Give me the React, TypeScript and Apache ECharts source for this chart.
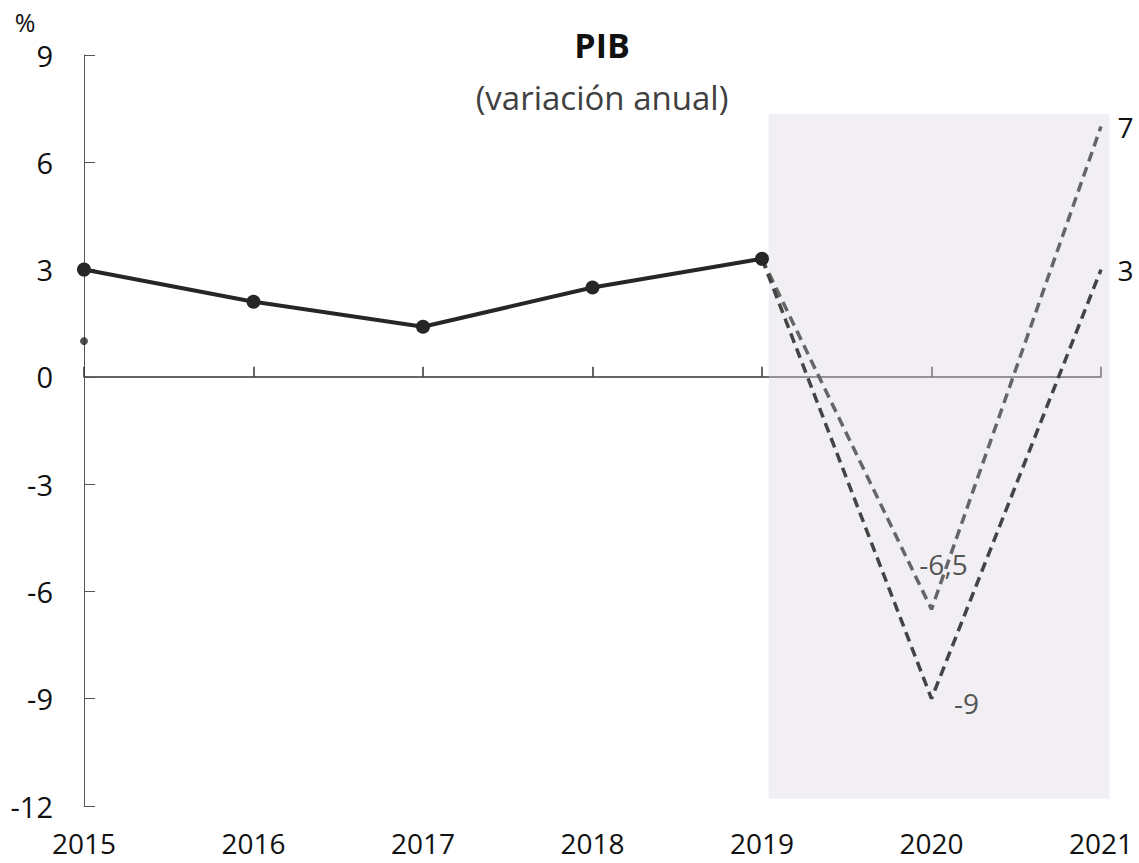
import React, { useEffect, useRef } from "react";
import * as echarts from "echarts";

// Annual GDP growth (%)
const years = [2015, 2016, 2017, 2018, 2019];
const observed = [3.0, 2.1, 1.4, 2.5, 3.3];
const forecastYears = [2019, 2020, 2021];
const scenarioHigh = [3.3, -6.5, 7];
const scenarioLow = [3.3, -9, 3];
const extraPoint = [[2015, 1.0]];
// Forecast period band: [x0, x1, yTop, yBottom]
const forecastBand = [[2019.04, 2021.05, 7.35, -11.8]];

const yTicks = { min: -12, max: 9, interval: 3 };
const FONT = "Open Sans";

const fmt = (v: number) => String(v).replace(".", ",");

function withLabels(xs: number[], ys: number[], labelFor: (i: number) => any) {
  return xs.map((x, i) => {
    const lab = labelFor(i);
    return lab ? { value: [x, ys[i]], label: lab } : { value: [x, ys[i]] };
  });
}

export default function App() {
  const ref = useRef<HTMLDivElement>(null);

  useEffect(() => {
    if (!ref.current) return;
    const chart = echarts.init(ref.current, undefined, { renderer: "svg" });

    const labelBase = {
      show: true,
      fontFamily: FONT,
      fontSize: 28,
      formatter: (p: any) => fmt(p.value[1]),
    };

    chart.setOption({
      animation: false,
      backgroundColor: "#ffffff",
      textStyle: { fontFamily: FONT },
      grid: { left: 84, right: 38, top: 55, bottom: 57, containLabel: false },
      graphic: [
        {
          type: "text",
          x: 602,
          y: 45,
          style: {
            text: "PIB",
            font: `bold 34px "${FONT}"`,
            fill: "#111",
            align: "center",
            verticalAlign: "middle",
          },
        },
        {
          type: "text",
          x: 602,
          y: 97,
          style: {
            text: "(variación anual)",
            font: `33px "${FONT}"`,
            fill: "#404040",
            align: "center",
            verticalAlign: "middle",
          },
        },
        {
          type: "text",
          x: 25,
          y: 22,
          style: {
            text: "%",
            font: `25px "${FONT}"`,
            fill: "#111",
            align: "center",
            verticalAlign: "middle",
          },
        },
      ],
      xAxis: [
        {
          type: "value",
          min: 2015,
          max: 2021,
          interval: 1,
          axisLine: { show: true, onZero: true, lineStyle: { color: "#333", width: 1.5 } },
          axisTick: { show: true, inside: true, length: 10, lineStyle: { color: "#333", width: 1.5 } },
          axisLabel: { show: false },
          splitLine: { show: false },
        },
        {
          type: "value",
          min: 2015,
          max: 2021,
          interval: 1,
          position: "bottom",
          axisLine: { show: false, onZero: false },
          axisTick: { show: false },
          axisLabel: {
            show: true,
            margin: 22,
            fontSize: 28,
            lineHeight: 30,
            color: "#111",
            fontFamily: FONT,
            formatter: (v: number) => String(v),
          },
          splitLine: { show: false },
        },
      ],
      yAxis: {
        type: "value",
        min: yTicks.min,
        max: yTicks.max,
        interval: yTicks.interval,
        axisLine: { show: true, onZero: false, lineStyle: { color: "#555", width: 1 } },
        axisTick: { show: true, inside: true, length: 11, lineStyle: { color: "#555", width: 1 } },
        axisLabel: { margin: 31, fontSize: 29, color: "#111", fontFamily: FONT },
        splitLine: { show: false },
      },
      series: [
        {
          type: "custom",
          name: "band",
          z: 1,
          silent: true,
          data: forecastBand,
          renderItem: (params: any, api: any) => {
            const p0 = api.coord([api.value(0), api.value(2)]);
            const p1 = api.coord([api.value(1), api.value(3)]);
            return {
              type: "rect",
              shape: { x: p0[0], y: p0[1], width: p1[0] - p0[0], height: p1[1] - p0[1] },
              style: { fill: "rgba(220,215,225,0.4)" },
            };
          },
        },
        {
          type: "line",
          name: "scenarioHigh",
          z: 3,
          showSymbol: true,
          symbol: "circle",
          symbolSize: 1,
          itemStyle: { color: "rgba(0,0,0,0)" },
          lineStyle: { color: "#666", width: 3.5, type: [10, 6] },
          data: withLabels(forecastYears, scenarioHigh, (i) => {
            if (i === 1) return { ...labelBase, color: "#555", position: "top", offset: [12, -26] };
            if (i === 2) return { ...labelBase, color: "#111", position: "right", distance: 16 };
            return null;
          }),
        },
        {
          type: "line",
          name: "scenarioLow",
          z: 3,
          showSymbol: true,
          symbol: "circle",
          symbolSize: 1,
          itemStyle: { color: "rgba(0,0,0,0)" },
          lineStyle: { color: "#444", width: 3.5, type: [10, 6] },
          data: withLabels(forecastYears, scenarioLow, (i) => {
            if (i === 1) return { ...labelBase, color: "#555", position: "right", distance: 22, offset: [0, 4] };
            if (i === 2) return { ...labelBase, color: "#111", position: "right", distance: 16 };
            return null;
          }),
        },
        {
          type: "line",
          name: "observed",
          z: 4,
          symbol: "circle",
          symbolSize: 14,
          itemStyle: { color: "#262626" },
          lineStyle: { color: "#262626", width: 4 },
          data: years.map((y, i) => [y, observed[i]]),
        },
        {
          type: "scatter",
          name: "extra",
          z: 4,
          symbol: "circle",
          symbolSize: 8,
          itemStyle: { color: "#262626" },
          data: extraPoint,
        },
      ],
    });

    return () => chart.dispose();
  }, []);

  return (
    <div
      ref={ref}
      style={{ position: "fixed", left: 0, top: 0, width: 1139, height: 863, background: "#fff" }}
    />
  );
}
